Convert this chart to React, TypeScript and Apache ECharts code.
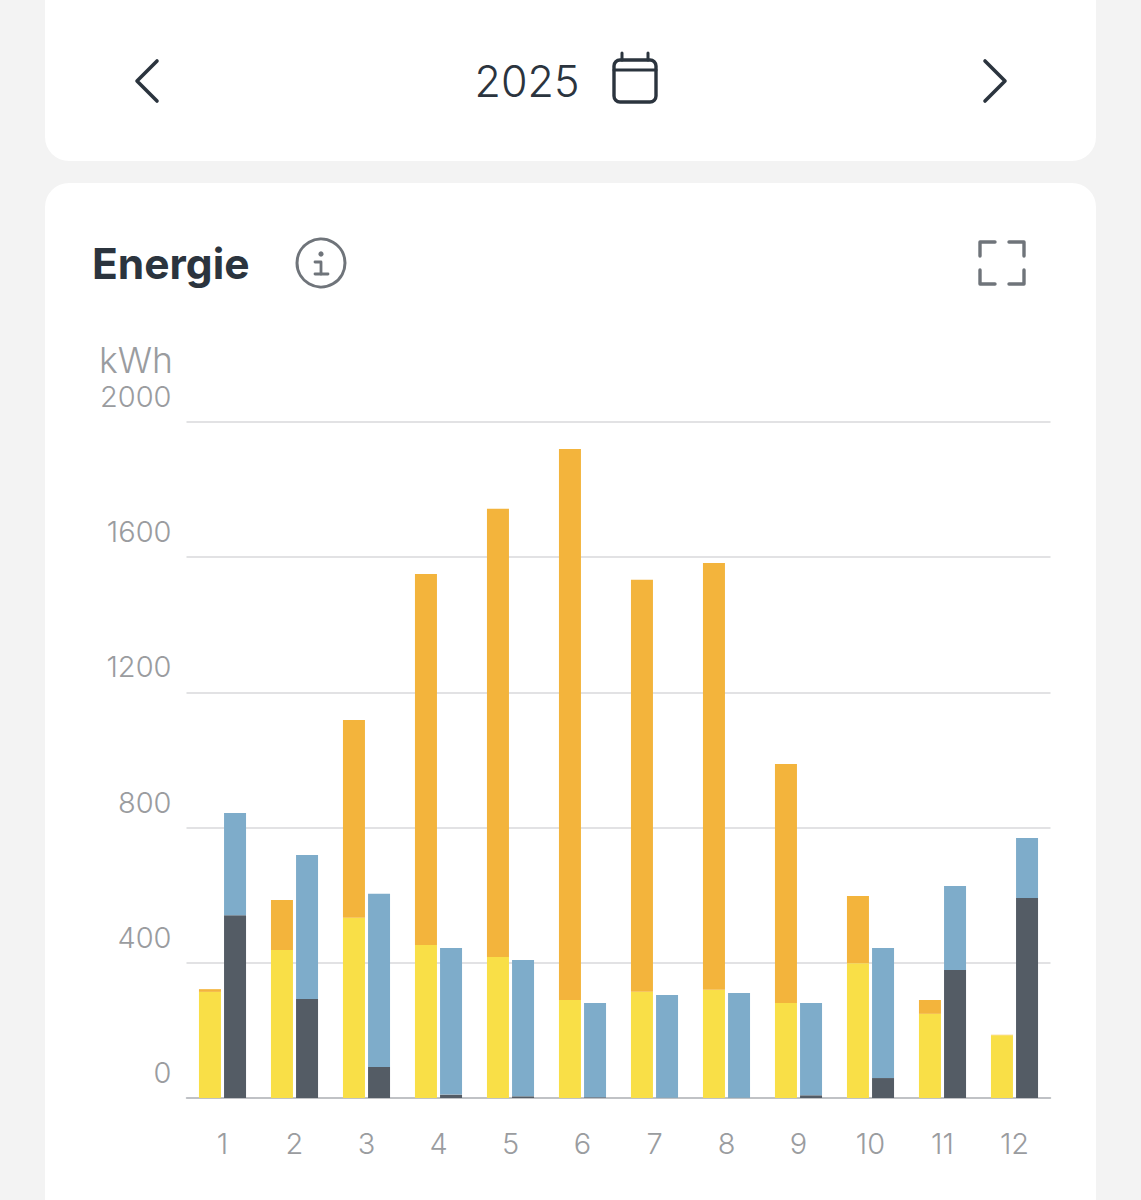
import React, { useEffect, useRef } from "react";
import * as echarts from "echarts";

const months = ["1", "2", "3", "4", "5", "6", "7", "8", "9", "10", "11", "12"];
const yearLabel = "2025";
const titleLabel = "Energie";
const unitLabel = "kWh";
const selfUsed = [314, 438, 533, 453, 417, 290, 314, 320, 281, 399, 249, 186];
const exported = [8, 148, 585, 1097, 1326, 1630, 1219, 1263, 707, 199, 41, 1];
const gridDraw = [541, 293, 92, 10, 5, 2, 1, 1, 8, 59, 379, 592];
const batteryDraw = [302, 426, 512, 434, 403, 279, 304, 310, 273, 385, 248, 177];

const FONT = "Inter, 'Noto Sans', sans-serif";
const INK = "#2b343e";
const GREY = "#6f747a";
const LABEL = "#9a9c9f";

const line = (points: number[][], stroke: string, lineWidth: number) => ({
  type: "polyline",
  z: 5,
  shape: { points },
  style: { stroke, lineWidth, lineCap: "round", lineJoin: "round", fill: "none" },
});

const card = (y: number, height: number) => ({
  type: "rect",
  z: -10,
  shape: { x: 45, y, width: 1051, height, r: 24 },
  style: { fill: "#ffffff" },
});

const graphicElements = [
  card(-40, 201),
  card(183, 1100),
  line([[157, 61], [137, 81], [157, 101]], INK, 3.6),
  line([[985, 61], [1005, 81], [985, 101]], INK, 3.6),
  {
    type: "text",
    z: 5,
    style: { x: 527, y: 81, text: yearLabel, font: `300 43px ${FONT}`, fill: INK, textAlign: "center", textVerticalAlign: "middle" },
  },
  {
    type: "rect",
    z: 5,
    shape: { x: 614, y: 60, width: 42, height: 42, r: 6 },
    style: { stroke: INK, lineWidth: 3.4, fill: "none" },
  },
  line([[614, 70], [656, 70]], INK, 3),
  line([[622, 53], [622, 60]], INK, 3),
  line([[648, 53], [648, 60]], INK, 3),
  {
    type: "text",
    z: 5,
    style: { x: 92, y: 263, text: titleLabel, font: `700 42.5px ${FONT}`, fill: INK, textAlign: "left", textVerticalAlign: "middle" },
  },
  {
    type: "circle",
    z: 5,
    shape: { cx: 321, cy: 263, r: 24 },
    style: { stroke: GREY, lineWidth: 3, fill: "none" },
  },
  { type: "circle", z: 5, shape: { cx: 321, cy: 254, r: 2.6 }, style: { fill: GREY } },
  line([[315, 262], [321, 262], [321, 274]], GREY, 2.8),
  line([[315, 274], [328, 274]], GREY, 2.8),
  line([[980, 256], [980, 242], [995, 242]], GREY, 3.4),
  line([[1009, 242], [1024, 242], [1024, 256]], GREY, 3.4),
  line([[980, 270], [980, 284], [995, 284]], GREY, 3.4),
  line([[1009, 284], [1024, 284], [1024, 270]], GREY, 3.4),
  {
    type: "text",
    z: 5,
    style: { x: 99, y: 360, text: unitLabel, font: `300 35.5px ${FONT}`, fill: LABEL, textAlign: "left", textVerticalAlign: "middle" },
  },
];

export default function App() {
  const ref = useRef<HTMLDivElement>(null);

  useEffect(() => {
    document.body.style.margin = "0";
    const chart = echarts.init(ref.current!, undefined, { renderer: "svg" });
    const bar = (name: string, stack: string, data: number[], color: string) => ({
      name,
      type: "bar",
      stack,
      data,
      barWidth: 22,
      barGap: "14%",
      itemStyle: { color },
    });
    chart.setOption({
      animation: false,
      backgroundColor: "#f3f3f3",
      graphic: { elements: graphicElements },
      grid: { left: 186.5, right: 90.5, top: 422, bottom: 102, containLabel: false },
      xAxis: {
        type: "category",
        data: months,
        axisTick: { show: false },
        axisLine: { show: true, lineStyle: { color: "#b4b7bb", width: 1.5 } },
        axisLabel: { color: LABEL, fontFamily: FONT, fontSize: 29, fontWeight: 300, margin: 31 },
      },
      yAxis: {
        type: "value",
        min: 0,
        max: 2000,
        interval: 400,
        axisLine: { show: false },
        axisTick: { show: false },
        splitLine: { lineStyle: { color: "#d8d9db", width: 1.5 } },
        axisLabel: {
          color: LABEL,
          fontFamily: FONT,
          fontSize: 29,
          fontWeight: 300,
          margin: 15,
          verticalAlign: "bottom",
          padding: [0, 0, 11, 0],
          formatter: (v: number) => String(v),
        },
      },
      series: [
        bar("Eigenverbrauch", "production", selfUsed, "#f9df47"),
        bar("Einspeisung", "production", exported, "#f3b43c"),
        bar("Netzbezug", "consumption", gridDraw, "#545c65"),
        bar("Batterie", "consumption", batteryDraw, "#7eacca"),
      ],
    });
    return () => chart.dispose();
  }, []);

  return <div ref={ref} style={{ position: "absolute", left: 0, top: 0, width: 1141, height: 1200 }} />;
}
